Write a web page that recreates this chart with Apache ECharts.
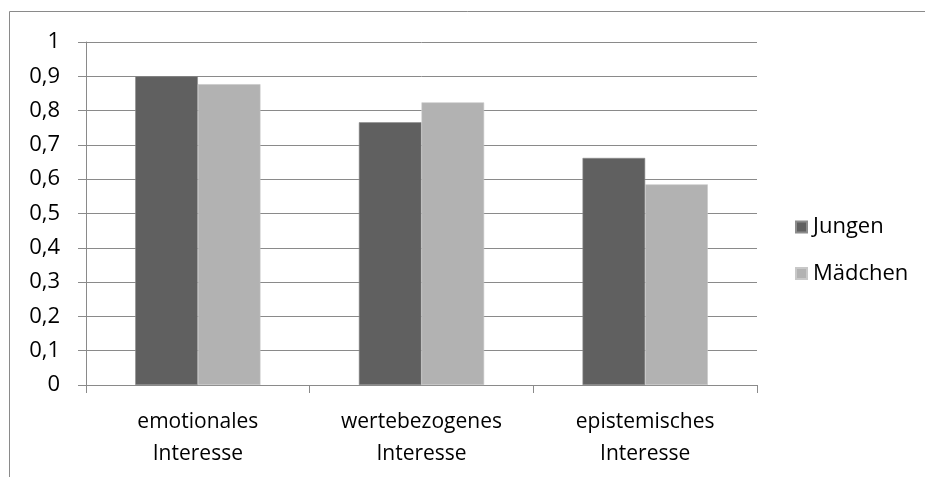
<!DOCTYPE html>
<html>
<head>
<meta charset="utf-8">
<script src="https://cdn.jsdelivr.net/npm/echarts@6/dist/echarts.min.js"></script>
<style>
  html, body { margin: 0; padding: 0; background: #fff; }
  #chart { width: 925px; height: 477px; }
</style>
</head>
<body>
<div id="chart"></div>
<script>
// Interest categories on the x axis
const categories = ['emotionales\nInteresse', 'wertebezogenes\nInteresse', 'epistemisches\nInteresse'];
// Mean values per group
const jungen = [0.90, 0.766, 0.662];
const maedchen = [0.877, 0.824, 0.585];
const seriesNames = ['Jungen', 'Mädchen'];

const FONT = 'Open Sans';
const chart = echarts.init(document.getElementById('chart'));

chart.setOption({
  animation: false,
  backgroundColor: '#ffffff',
  graphic: [{
    type: 'rect',
    shape: { x: 9.5, y: 11.5, width: 1000, height: 1000 },
    style: { fill: 'none', stroke: '#8a8a8a', lineWidth: 1 },
    silent: true
  }],
  grid: { left: 86, right: 168, top: 42, bottom: 92, containLabel: false },
  legend: {
    orient: 'vertical',
    left: 790,
    top: 211,
    itemWidth: 11,
    itemHeight: 11,
    itemGap: 24.5,
    icon: 'rect',
    textStyle: { fontFamily: FONT, fontSize: 22, lineHeight: 22, color: '#000', padding: [0, 0, 0, 1] },
    data: seriesNames
  },
  xAxis: {
    type: 'category',
    data: categories,
    axisLine: { show: true, lineStyle: { color: '#8a8a8a', width: 1 } },
    axisTick: { show: true, length: 8, lineStyle: { color: '#8a8a8a' } },
    axisLabel: {
      fontFamily: FONT, fontSize: 21, color: '#000',
      margin: 21, lineHeight: 32, interval: 0
    }
  },
  yAxis: {
    type: 'value',
    min: 0, max: 1, interval: 0.1,
    axisLine: { show: true, lineStyle: { color: '#8a8a8a', width: 1 } },
    axisTick: { show: true, length: 8, lineStyle: { color: '#8a8a8a' } },
    splitLine: { show: true, lineStyle: { color: '#8a8a8a', width: 1 } },
    axisLabel: {
      fontFamily: FONT, fontSize: 22, color: '#000', margin: 26,
      formatter: v => String(Math.round(v * 10) / 10).replace('.', ',')
    }
  },
  series: [
    {
      name: seriesNames[0], type: 'bar', data: jungen,
      barGap: '0%', barCategoryGap: '44%',
      itemStyle: { color: '#606060', borderColor: '#8c8c8c', borderWidth: 0.6 }
    },
    {
      name: seriesNames[1], type: 'bar', data: maedchen,
      itemStyle: { color: '#b2b2b2', borderColor: '#c8c8c8', borderWidth: 0.6 }
    }
  ]
});
</script>
</body>
</html>
